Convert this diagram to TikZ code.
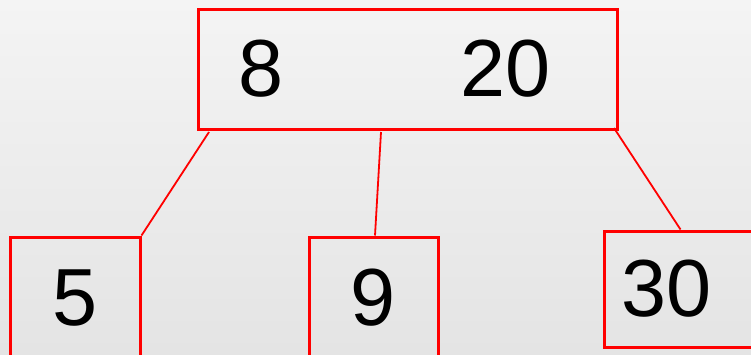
\documentclass[tikz,border=0pt]{standalone}
\usepackage{fontspec}
\setmainfont{Liberation Sans}
\usetikzlibrary{calc}
\definecolor{bgtop}{RGB}{244,244,244}
\definecolor{bgbot}{RGB}{228,228,228}
\definecolor{boxred}{RGB}{255,0,0}
\begin{document}
\begin{tikzpicture}[x=1pt,y=1pt,
  keybox/.style={draw=boxred,line width=3pt,rectangle,inner sep=0pt},
  digit/.style={font=\fontsize{81}{81}\selectfont,anchor=base,inner sep=0pt,text=black},
  edge/.style={draw=boxred,line width=1.8pt}]
\useasboundingbox (0,0) rectangle (751,354);
\clip (0,0) rectangle (751,354);
\shade[top color=bgtop,bottom color=bgbot] (0,0) rectangle (751,354);
% boxes (y = 354 - pixel y)
\node[keybox,minimum width=419pt,minimum height=120pt] (top) at (408,284.5) {};
\node[keybox,minimum width=130pt,minimum height=140pt] (L) at (75,47) {};
\node[keybox,minimum width=129pt,minimum height=140pt] (M) at (373.5,47) {};
\node[keybox,minimum width=200pt,minimum height=116pt] (R) at (704,65) {};
% texts
\node[digit] (t8) at (261,257) {8};
\node[digit] (t20) at (506,257) {20};
\node[digit] (t5) at (75.5,29) {5};
\node[digit] (t9) at (373.5,29) {9};
\node[digit] (t30) at (667,38) {30};
% connectors
\draw[edge] ($(top.south west)+(12,-1)$) -- (L.north east);
\draw[edge] ($(top.south west)+(184,-1)$) -- ($(M.north)+(1.5,0)$);
\draw[edge] ($(top.south east)+(-5,3)$) -- ($(R.north west)+(78,0)$);
\end{tikzpicture}
\end{document}
